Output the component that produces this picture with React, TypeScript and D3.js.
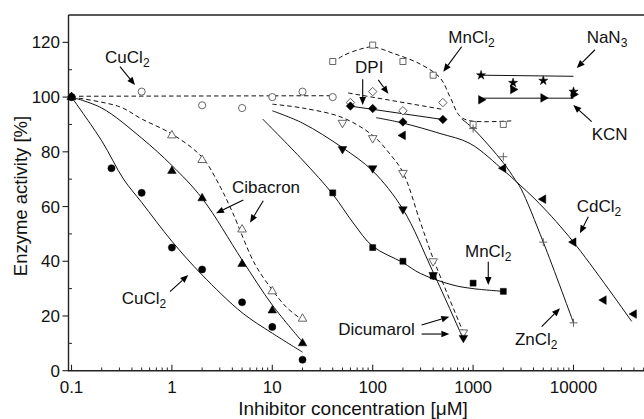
import React from "react";
import * as d3 from "d3";

// ---------- data ----------
// CuCl2, filled circles
const cuFilledC = [0.1, 0.25, 0.5, 1, 2, 5, 10, 20];
const cuFilledV = [100, 74, 65, 45, 37, 25, 16, 4];
const cuFilledFitC = [0.1, 0.2, 0.33, 0.5, 1, 2, 5, 10, 20];
const cuFilledFitV = [100, 84, 70, 61.5, 47.3, 35, 21.2, 13.7, 6.8];
// CuCl2, open circles
const cuOpenC = [0.1, 0.5, 2, 5, 10, 20, 40];
const cuOpenV = [100, 102, 97, 96, 100, 102, 100];
const cuOpenFitC = [0.1, 40];
const cuOpenFitV = [100.3, 100.5];
// Cibacron, filled triangles
const cibFilledC = [0.1, 1, 2, 5, 10, 20];
const cibFilledV = [100, 73, 63, 39, 22, 10];
const cibFilledFitC = [0.1, 0.2, 0.5, 1, 2, 5, 10, 20];
const cibFilledFitV = [100, 96, 85, 75, 63, 40.5, 24, 10.5];
// Cibacron, open triangles
const cibOpenC = [0.1, 1, 2, 5, 10, 20];
const cibOpenV = [100, 86, 77, 51.6, 29, 19];
const cibOpenFitC = [0.1, 0.3, 0.5, 1, 2, 3, 4, 6.7, 10, 14, 20];
const cibOpenFitV = [100, 96.5, 92, 86.5, 78, 67.5, 58, 39, 29.5, 23, 18.5];
// Dicumarol, filled down triangles
const dicFilledC = [50, 100, 200, 400, 800];
const dicFilledV = [81, 74, 59, 35, 12];
const dicFilledFitC = [10, 20, 50, 100, 200, 400, 800];
const dicFilledFitV = [95, 90.5, 81.5, 73, 59, 36, 11.5];
// Dicumarol, open down triangles
const dicOpenC = [50, 100, 200, 400, 800];
const dicOpenV = [90.6, 85, 72.3, 40, 14];
const dicOpenFitC = [10, 20, 50, 100, 150, 200, 300, 400, 800];
const dicOpenFitV = [97.4, 96, 92.5, 86, 79, 72.5, 54, 41, 14];
// MnCl2, filled squares
const mnFilledC = [40, 100, 200, 400, 1000, 2000];
const mnFilledV = [65, 45, 40, 34.6, 32, 29];
const mnFilledFitC = [8, 20, 40, 64, 100, 200, 300, 630, 1000, 2000];
const mnFilledFitV = [92, 77, 64.5, 54, 45.5, 39.5, 35.5, 31.3, 30, 29];
// MnCl2, open squares
const mnOpenC = [40, 100, 200, 400, 1000, 2000];
const mnOpenV = [113, 119, 113, 108, 90, 90];
const mnOpenFitC = [40, 50, 75, 100, 160, 300, 470, 590, 740, 950, 2400];
const mnOpenFitV = [112.5, 115, 117.5, 118.3, 116, 112, 107, 100, 93, 91.3, 91.3];
// DPI, open diamonds
const dpiOpenC = [60, 100, 200, 500];
const dpiOpenV = [98, 102, 95, 98];
const dpiOpenFitC = [57, 500];
const dpiOpenFitV = [101.5, 95.5];
// DPI, filled diamonds
const dpiFilledC = [60, 100, 200, 500];
const dpiFilledV = [96.7, 95.8, 90.9, 91.8];
const dpiFilledFitC = [60, 500];
const dpiFilledFitV = [96.7, 91.8];
// CdCl2, filled left triangles
const cdC = [200, 2000, 5000, 10000, 20000, 40000];
const cdV = [86, 74, 62.7, 47, 25.8, 20.7];
const cdFitC = [108, 200, 468, 935, 2000, 2600, 4600, 10000, 38000];
const cdFitV = [92.5, 90.5, 86.7, 83, 73.3, 69.6, 61, 47, 18];
// ZnCl2, plus signs
const znC = [1000, 2000, 5000, 10000];
const znV = [88.5, 78.2, 47, 17.5];
const znFitC = [770, 1000, 2000, 2600, 3000, 5000, 10000];
const znFitV = [92, 88.5, 76, 70, 66.5, 47, 17.5];
// NaN3, stars
const nanC = [1200, 2500, 5000, 10000];
const nanV = [108, 105.2, 106, 102];
const nanFitC = [1200, 10000];
const nanFitV = [108, 107.6];
// KCN, filled right triangles
const kcnC = [1200, 2500, 5000, 10000];
const kcnV = [99, 102.8, 99.7, 101];
const kcnFitC = [1200, 10000];
const kcnFitV = [99.6, 99.6];

// axis ticks
const xMajor = [0.1, 1, 10, 100, 1000, 10000];
const xMajorLabels = ["0.1", "1", "10", "100", "1000", "10000"];
const yMajor = [0, 20, 40, 60, 80, 100, 120];
const yMinor = [10, 30, 50, 70, 90, 110];

// annotations: [text, subscript, c, v]
const labels: [string, string, number, number][] = [
  ["CuCl", "2", 0.216, 112.6],
  ["Cibacron", "", 3.97, 65.0],
  ["CuCl", "2", 0.316, 24.4],
  ["Dicumarol", "", 45.4, 13.0],
  ["MnCl", "2", 830, 41.7],
  ["ZnCl", "2", 2612, 9.4],
  ["CdCl", "2", 10770, 58.1],
  ["MnCl", "2", 566, 119.7],
  ["NaN", "3", 13520, 119.9],
  ["KCN", "", 15170, 84.3],
  ["DPI", "", 66.7, 108.7],
];
// arrows: [c1, v1, c2 (tip), v2 (tip)]
const arrows: [number, number, number, number][] = [
  [0.304, 111.1, 0.429, 104.4],
  [5.14, 62.4, 2.75, 57.5],
  [8.13, 62.1, 6.0, 54.1],
  [0.957, 28.9, 1.455, 35.0],
  [307, 16.7, 580, 19.7],
  [307, 13.4, 580, 13.4],
  [1416, 39.8, 1416, 31.3],
  [4820, 16.1, 7340, 22.8],
  [14040, 56.3, 11600, 50.2],
  [769, 118.4, 505, 109.3],
  [16370, 117.3, 10770, 110.6],
  [15170, 91.0, 9950, 97.1],
  [79.5, 106.5, 79.5, 97.1],
  [113.7, 106.3, 143, 101.2],
];

const W = 644;
const H = 419;
const FONT = "'Liberation Sans', Arial, Helvetica, sans-serif";

const x = d3.scaleLog().domain([0.1, 10000]).range([71.5, 573.5]);
const y = d3.scaleLinear().domain([0, 130]).range([370.7, 15]);
const X0 = 68.5;
const XR = 646;

type Marker = "circle" | "triUp" | "triDown" | "triLeft" | "triRight" | "square" | "diamond" | "star" | "plus";

interface Series {
  c: number[];
  v: number[];
  fc: number[];
  fv: number[];
  marker: Marker;
  filled: boolean;
  dashed: boolean;
}

const series: Series[] = [
  { c: cuOpenC, v: cuOpenV, fc: cuOpenFitC, fv: cuOpenFitV, marker: "circle", filled: false, dashed: true },
  { c: cibOpenC, v: cibOpenV, fc: cibOpenFitC, fv: cibOpenFitV, marker: "triUp", filled: false, dashed: true },
  { c: cibFilledC, v: cibFilledV, fc: cibFilledFitC, fv: cibFilledFitV, marker: "triUp", filled: true, dashed: false },
  { c: cuFilledC, v: cuFilledV, fc: cuFilledFitC, fv: cuFilledFitV, marker: "circle", filled: true, dashed: false },
  { c: dicOpenC, v: dicOpenV, fc: dicOpenFitC, fv: dicOpenFitV, marker: "triDown", filled: false, dashed: true },
  { c: dicFilledC, v: dicFilledV, fc: dicFilledFitC, fv: dicFilledFitV, marker: "triDown", filled: true, dashed: false },
  { c: mnFilledC, v: mnFilledV, fc: mnFilledFitC, fv: mnFilledFitV, marker: "square", filled: true, dashed: false },
  { c: mnOpenC, v: mnOpenV, fc: mnOpenFitC, fv: mnOpenFitV, marker: "square", filled: false, dashed: true },
  { c: dpiOpenC, v: dpiOpenV, fc: dpiOpenFitC, fv: dpiOpenFitV, marker: "diamond", filled: false, dashed: true },
  { c: dpiFilledC, v: dpiFilledV, fc: dpiFilledFitC, fv: dpiFilledFitV, marker: "diamond", filled: true, dashed: false },
  { c: cdC, v: cdV, fc: cdFitC, fv: cdFitV, marker: "triLeft", filled: true, dashed: false },
  { c: znC, v: znV, fc: znFitC, fv: znFitV, marker: "plus", filled: false, dashed: false },
  { c: nanC, v: nanV, fc: nanFitC, fv: nanFitV, marker: "star", filled: true, dashed: false },
  { c: kcnC, v: kcnV, fc: kcnFitC, fv: kcnFitV, marker: "triRight", filled: true, dashed: false },
];

const lineGen = d3
  .line<[number, number]>()
  .x((d) => x(d[0]))
  .y((d) => y(d[1]))
  .curve(d3.curveCatmullRom.alpha(0.5));

function markerPath(m: Marker): { d: string; rot: number } {
  switch (m) {
    case "circle":
      return { d: d3.symbol(d3.symbolCircle, 40)()!, rot: 0 };
    case "triUp":
      return { d: d3.symbol(d3.symbolTriangle, 32)()!, rot: 0 };
    case "triDown":
      return { d: d3.symbol(d3.symbolTriangle, 32)()!, rot: 180 };
    case "triLeft":
      return { d: d3.symbol(d3.symbolTriangle, 32)()!, rot: -90 };
    case "triRight":
      return { d: d3.symbol(d3.symbolTriangle, 32)()!, rot: 90 };
    case "square":
      return { d: d3.symbol(d3.symbolSquare, 36)()!, rot: 0 };
    case "diamond":
      return { d: d3.symbol(d3.symbolSquare, 36)()!, rot: 45 };
    case "star":
      return { d: d3.symbol(d3.symbolStar, 26)()!, rot: 0 };
    case "plus":
      return { d: "M-4,0H4M0,-4V4", rot: 0 };
  }
}

function Arrow({ a }: { a: [number, number, number, number] }) {
  const x1 = x(a[0]);
  const y1 = y(a[1]);
  const x2 = x(a[2]);
  const y2 = y(a[3]);
  const ang = Math.atan2(y2 - y1, x2 - x1);
  const L = 8;
  const hw = 3.3;
  const bx = x2 - L * Math.cos(ang);
  const by = y2 - L * Math.sin(ang);
  const px = -Math.sin(ang) * hw;
  const py = Math.cos(ang) * hw;
  return (
    <g>
      <line x1={x1} y1={y1} x2={bx} y2={by} stroke="#000" strokeWidth={1.1} />
      <path d={`M${x2},${y2}L${bx + px},${by + py}L${bx - px},${by - py}Z`} fill="#000" />
    </g>
  );
}

export default function App() {
  const xMinor: number[] = [];
  for (let e = -1; e <= 4; e++) {
    for (let k = 2; k <= 9; k++) {
      const val = k * Math.pow(10, e);
      if (x(val) < W) xMinor.push(val);
    }
  }
  const y0 = y(0);
  const yTop = y(130);

  return (
    <svg
      width={W}
      height={H}
      viewBox={`0 0 ${W} ${H}`}
      style={{ position: "absolute", left: 0, top: 0, background: "#fff" }}
      fontFamily={FONT}
    >
      <rect x={0} y={0} width={W} height={H} fill="#fff" />
      {/* frame */}
      <line x1={X0} y1={yTop} x2={XR} y2={yTop} stroke="#222" strokeWidth={1.4} />
      <line x1={X0} y1={yTop} x2={X0} y2={y0} stroke="#222" strokeWidth={1.4} />
      <line x1={X0 - 0.7} y1={y0} x2={XR} y2={y0} stroke="#222" strokeWidth={1.4} />

      {/* x ticks */}
      {xMajor.map((t, i) => (
        <g key={"xm" + i}>
          <line x1={x(t)} x2={x(t)} y1={y0} y2={y0 - 6} stroke="#222" strokeWidth={1.1} />
          <text x={x(t)} y={393} textAnchor="middle" fontSize={17} fill="#111">
            {xMajorLabels[i]}
          </text>
        </g>
      ))}
      {xMinor.map((t, i) => (
        <line key={"xn" + i} x1={x(t)} x2={x(t)} y1={y0} y2={y0 - 3.2} stroke="#222" strokeWidth={1} />
      ))}
      {/* y ticks */}
      {yMajor.map((t, i) => (
        <g key={"ym" + i}>
          <line x1={X0 - 6} x2={X0} y1={y(t)} y2={y(t)} stroke="#222" strokeWidth={1.1} />
          <text x={60} y={y(t) + 6} textAnchor="end" fontSize={17} fill="#111">
            {t}
          </text>
        </g>
      ))}
      {yMinor.map((t, i) => (
        <line key={"yn" + i} x1={X0} x2={X0 + 3.5} y1={y(t)} y2={y(t)} stroke="#222" strokeWidth={1} />
      ))}

      {/* axis titles */}
      <text x={353} y={415} textAnchor="middle" fontSize={19} fill="#111">
        Inhibitor concentration [μM]
      </text>
      <text
        transform={`translate(27,196) rotate(-90)`}
        textAnchor="middle"
        fontSize={18.5}
        fill="#111"
      >
        Enzyme activity [%]
      </text>

      {/* fit lines */}
      {series.map((s, i) => (
        <path
          key={"fit" + i}
          d={lineGen(s.fc.map((c, j) => [c, s.fv[j]] as [number, number])) || ""}
          fill="none"
          stroke="#111"
          strokeWidth={1}
          strokeDasharray={s.dashed ? "4.5,3" : undefined}
        />
      ))}

      {/* markers */}
      {series.map((s, i) => {
        const mp = markerPath(s.marker);
        return (
          <g key={"mk" + i}>
            {s.c.map((c, j) => (
              <path
                key={j}
                d={mp.d}
                transform={`translate(${x(c)},${y(s.v[j])}) rotate(${mp.rot})`}
                fill={s.marker === "plus" ? "none" : s.filled ? "#000" : "#fff"}
                stroke={s.filled ? "#000" : "#555"}
                strokeWidth={s.filled ? 0.5 : 0.9}
              />
            ))}
          </g>
        );
      })}

      {/* annotations */}
      {arrows.map((a, i) => (
        <Arrow key={"ar" + i} a={a} />
      ))}
      {labels.map((l, i) => (
        <text key={"lb" + i} x={x(l[2])} y={y(l[3])} fontSize={17} fill="#111">
          {l[0]}
          {l[1] ? (
            <tspan fontSize={12} dy={4}>
              {l[1]}
            </tspan>
          ) : null}
        </text>
      ))}
    </svg>
  );
}
